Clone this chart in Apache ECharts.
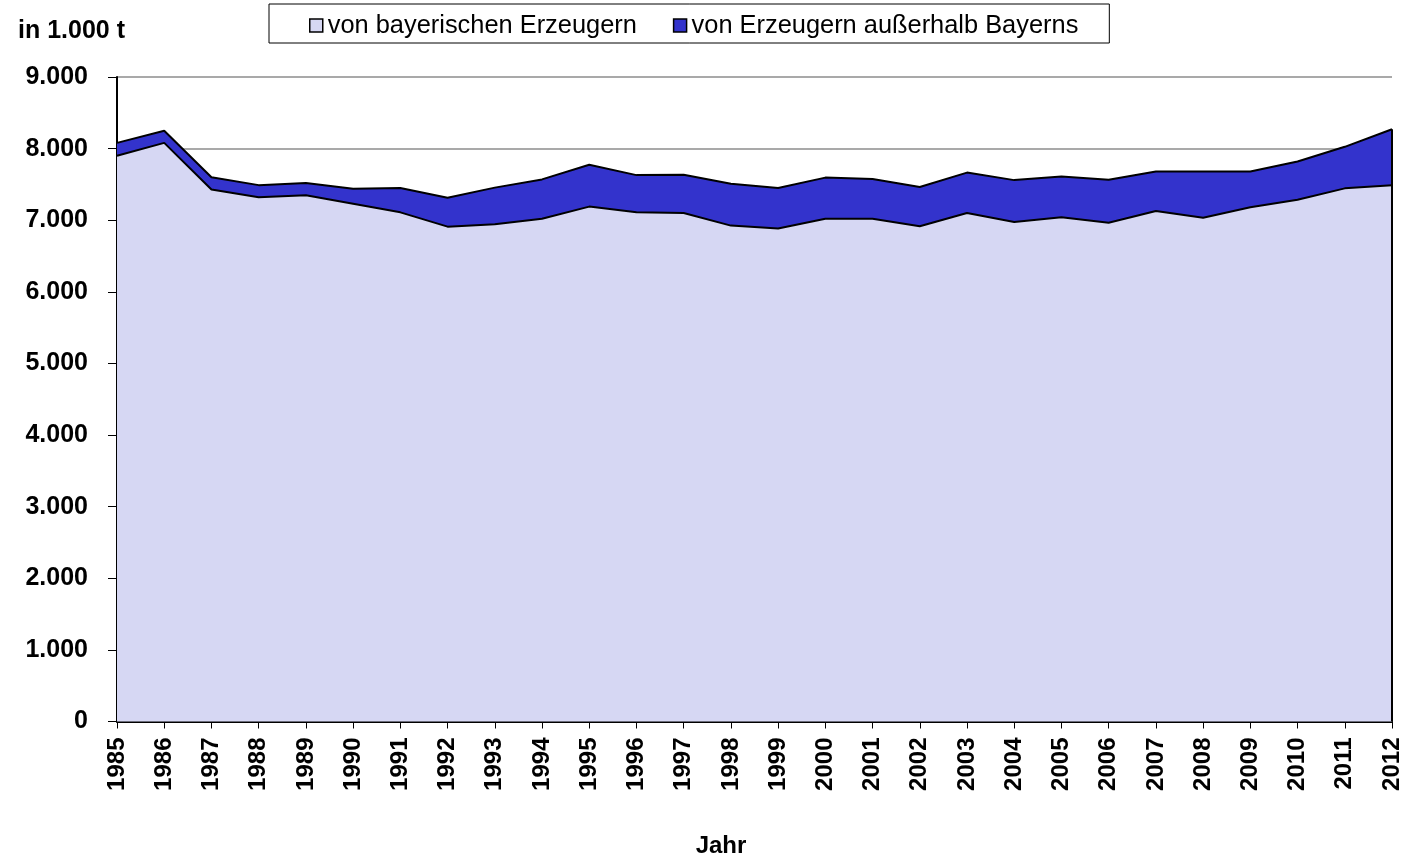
<!DOCTYPE html>
<html>
<head>
<meta charset="utf-8">
<title>Erzeugung in 1.000 t</title>
<script src="https://cdn.jsdelivr.net/npm/echarts@6/dist/echarts.min.js"></script>
<style>
  html, body { margin: 0; padding: 0; background: #fff; }
  #chart { width: 1406px; height: 860px; }
</style>
</head>
<body>
<div id="chart"></div>
<script>
  // Jahre
  const years = ['1985', '1986', '1987', '1988', '1989', '1990', '1991', '1992', '1993', '1994',
    '1995', '1996', '1997', '1998', '1999', '2000', '2001', '2002', '2003', '2004',
    '2005', '2006', '2007', '2008', '2009', '2010', '2011', '2012']
  // von bayerischen Erzeugern (1.000 t)
  const bayern = [7900, 8080, 7430, 7320, 7350, 7230, 7110, 6910, 6945, 7020,
    7190, 7110, 7100, 6925, 6885, 7020, 7020, 6915, 7100, 6975,
    7040, 6965, 7130, 7035, 7180, 7285, 7445, 7490]
  // von Erzeugern außerhalb Bayerns (1.000 t)
  const ausserhalb = [180, 170, 170, 170, 170, 210, 340, 405, 510, 550,
    585, 520, 535, 585, 565, 575, 555, 550, 565, 585,
    570, 600, 550, 645, 500, 535, 580, 780]
  const yTicks = [0, 1000, 2000, 3000, 4000, 5000, 6000, 7000, 8000, 9000]

  const fontFamily = 'Arial, "Liberation Sans", sans-serif'
  const lastYear = years[years.length - 1]
  const lastTotal = bayern[bayern.length - 1] + ausserhalb[ausserhalb.length - 1]

  // Tausenderpunkt
  function fmt (v) {
    return String(v).replace(/\B(?=(\d{3})+(?!\d))/g, '.')
  }

  const chart = echarts.init(document.getElementById('chart'))
  chart.setOption({
    animation: false,
    backgroundColor: '#fff',
    textStyle: { fontFamily: fontFamily },
    title: [{
      text: 'in 1.000 t',
      left: 13,
      top: 14,
      textStyle: { fontSize: 25, fontWeight: 'bold', color: '#000', fontFamily: fontFamily }
    }, {
      text: 'Jahr',
      left: 716,
      top: 829,
      textAlign: 'center',
      textStyle: { fontSize: 24, fontWeight: 'bold', color: '#000', fontFamily: fontFamily }
    }],
    legend: {
      left: 269,
      top: 4,
      padding: [9, 31, 5, 40],
      itemGap: 36,
      itemWidth: 13,
      itemHeight: 13,
      icon: 'rect',
      borderColor: '#000',
      borderWidth: 1,
      textStyle: { fontSize: 25.4, color: '#000', fontFamily: fontFamily },
      data: [
        { name: 'von bayerischen Erzeugern', itemStyle: { color: '#d6d7f3', borderColor: '#000', borderWidth: 1.5 } },
        { name: 'von Erzeugern außerhalb Bayerns', itemStyle: { color: '#3333cc', borderColor: '#000', borderWidth: 1.5 } }
      ]
    },
    grid: {
      left: 117,
      right: 14,
      top: 77,
      bottom: 138.5,
      containLabel: false,
      outerBoundsMode: 'none'
    },
    xAxis: {
      type: 'category',
      data: years,
      boundaryGap: false,
      axisLine: { show: true, lineStyle: { color: '#000', width: 2 } },
      axisTick: { show: true, alignWithLabel: true, length: 7, lineStyle: { color: '#000', width: 1 } },
      axisLabel: {
        rotate: 90,
        interval: 0,
        margin: 16,
        fontSize: 24,
        fontWeight: 'bold',
        color: '#000',
        fontFamily: fontFamily
      },
      splitLine: { show: false }
    },
    yAxis: {
      type: 'value',
      min: yTicks[0],
      max: yTicks[yTicks.length - 1],
      interval: 1000,
      axisLine: { show: true, lineStyle: { color: '#000', width: 2 } },
      axisTick: { show: true, length: 9, lineStyle: { color: '#000', width: 1 } },
      axisLabel: {
        margin: 29,
        fontSize: 25,
        fontWeight: 'bold',
        color: '#000',
        fontFamily: fontFamily,
        formatter: function (v) { return fmt(v) }
      },
      splitLine: { show: true, lineStyle: { color: '#8c8c8c', width: 1.5 } }
    },
    series: [{
      name: 'von bayerischen Erzeugern',
      type: 'line',
      stack: 'gesamt',
      data: bayern,
      symbol: 'none',
      lineStyle: { color: '#000', width: 2 },
      itemStyle: { color: '#d6d7f3' },
      areaStyle: { color: '#d6d7f3', opacity: 1 },
      z: 2
    }, {
      name: 'von Erzeugern außerhalb Bayerns',
      type: 'line',
      stack: 'gesamt',
      data: ausserhalb,
      symbol: 'none',
      lineStyle: { color: '#000', width: 2 },
      itemStyle: { color: '#3333cc' },
      areaStyle: { color: '#3333cc', opacity: 1 },
      z: 2,
      // rechter Rand der Fläche
      markLine: {
        silent: true,
        symbol: 'none',
        label: { show: false },
        lineStyle: { color: '#000', width: 2, type: 'solid' },
        data: [[{ coord: [lastYear, 0] }, { coord: [lastYear, lastTotal] }]]
      }
    }]
  })
</script>
</body>
</html>
